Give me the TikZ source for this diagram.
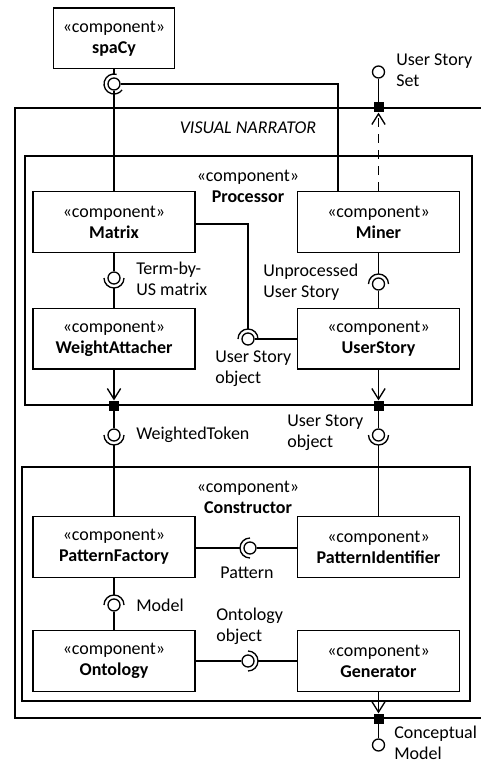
\documentclass[tikz,border=0pt]{standalone}
\usepackage{fontspec}
\setmainfont{Carlito}
\usetikzlibrary{arrows.meta,calc}

\begin{document}
\begin{tikzpicture}[x=0.75pt,y=-0.75pt,
  every node/.style={font=\fontsize{13.5}{15.75}\selectfont},
  comp/.style={draw,line width=1pt,minimum width=121.5pt,minimum height=45.5pt,align=center,inner sep=0pt},
  box/.style={draw,line width=1pt,inner sep=0pt},
  ball/.style={draw,line width=1pt,circle,minimum size=9pt,inner sep=0pt},
  port/.style={fill=black,minimum size=7.5pt,inner sep=0pt},
  lbl/.style={align=left,anchor=west,inner sep=0pt},
  wire/.style={line width=1pt},
  dep/.style={line width=1pt,-{Straight Barb[length=8pt,width=10pt,line width=1pt]}},
  ]
\useasboundingbox (0,0) rectangle (481,763);
\clip (0,0) rectangle (481,763);

% containers
\node[box,minimum width=363.75pt,minimum height=457.5pt] (outer) at (257.5,413) {};
\node[box,minimum width=335.25pt,minimum height=186.75pt] (proc) at (248.5,280.5) {};
\node[box,minimum width=336pt,minimum height=175.5pt] (cons) at (246,584) {};
\node (vnlbl) at (248,128) {\textit{VISUAL NARRATOR}};
\node[align=center] (proclbl) at (248,186) {«component»\\\textbf{Processor}};
\node[align=center] (conslbl) at (248,497) {«component»\\\textbf{Constructor}};

% components
\node[comp,minimum width=90.75pt] (spacy) at (114,38.5) {«component»\\\textbf{spaCy}};
\node[comp] (matrix) at (114,222) {«component»\\\textbf{Matrix}};
\node[comp] (miner) at (378.5,222) {«component»\\\textbf{Miner}};
\node[comp] (wa) at (114,338.5) {«component»\\\textbf{WeightAttacher}};
\node[comp] (us) at (378.5,338.5) {«component»\\\textbf{UserStory}};
\node[comp] (pf) at (114,547) {«component»\\\textbf{PatternFactory}};
\node[comp] (pi) at (378.5,547) {«component»\\\textbf{PatternIdentifier}};
\node[comp] (onto) at (114,661) {«component»\\\textbf{Ontology}};
\node[comp] (gen) at (378.5,661) {«component»\\\textbf{Generator}};

% ports
\node[port] (pset) at (miner.north |- outer.north) {};
\node[port] (pwa) at (wa.south |- proc.south) {};
\node[port] (pus) at (us.south |- proc.south) {};
\node[port] (pgen) at (gen.south |- outer.south) {};

% interface balls
\node[ball] (spb) at (114,84) {};
\node[ball] (setb) at (378.5,72) {};
\node[ball] (tbm) at (114,278) {};
\node[ball] (unp) at (378.5,284) {};
\node[ball] (uso) at (248,339) {};
\node[ball] (wt) at (114,435) {};
\node[ball] (uso2) at (378.5,435) {};
\node[ball] (pat) at (250,548) {};
\node[ball] (mdl) at (114,605) {};
\node[ball] (ono) at (248,661) {};
\node[ball] (cm) at (378.5,745) {};

% sockets
\draw[wire] (spb.center) ++(75:7.5pt) arc[start angle=75,end angle=324,radius=7.5pt];
\draw[wire] ([xshift=-7.5pt]tbm.center) arc[start angle=180,end angle=360,radius=7.5pt];
\draw[wire] ([xshift=7.5pt]unp.center) arc[start angle=0,end angle=180,radius=7.5pt];
\draw[wire] ([xshift=7.5pt]uso.center) arc[start angle=0,end angle=180,radius=7.5pt];
\draw[wire] ([xshift=-7.5pt]wt.center) arc[start angle=180,end angle=360,radius=7.5pt];
\draw[wire] ([xshift=-7.5pt]uso2.center) arc[start angle=180,end angle=360,radius=7.5pt];
\draw[wire] ([yshift=7.5pt]pat.center) arc[start angle=90,end angle=270,radius=7.5pt];
\draw[wire] ([xshift=7.5pt]mdl.center) arc[start angle=0,end angle=180,radius=7.5pt];
\draw[wire] ([yshift=-7.5pt]ono.center) arc[start angle=-90,end angle=90,radius=7.5pt];

% connectors
\draw[wire] (spacy.south) -- ([yshift=7.5pt]spb.center);
\draw[wire] (spb.south) -- (spb.south |- matrix.north);
\draw[wire] (spb.east) -| ([xshift=-30.4pt]miner.north);
\draw[wire] (setb.south) -- (pset.north);
\draw[line width=1pt,dash pattern=on 7pt off 5pt,-{Straight Barb[length=8pt,width=10pt,line width=1pt]}] (miner.north) -- (pset.south);
\draw[wire] (matrix.south) -- (tbm.north);
\draw[wire] ([yshift=-7.5pt]tbm.center) -- (wa.north);
\draw[wire] (miner.south) -- ([yshift=7.5pt]unp.center);
\draw[wire] (unp.south) -- (us.north);
\draw[wire] ([yshift=-1.5pt]matrix.east) -| ([yshift=7.5pt]uso.center);
\draw[wire] (uso.east) -- (uso.east -| us.west);
\draw[dep] (wa.south) -- (pwa.north);
\draw[dep] (us.south) -- (pus.north);
\draw[wire] (pwa.south) -- (wt.north);
\draw[wire] ([yshift=-7.5pt]wt.center) -- (pf.north);
\draw[wire] (pus.south) -- (uso2.north);
\draw[wire] ([yshift=-7.5pt]uso2.center) -- (pi.north);
\draw[wire] (pf.east |- pat) -- ([xshift=-7.5pt]pat.center);
\draw[wire] (pat.east) -- (pat.east -| pi.west);
\draw[wire] (pf.south) -- ([yshift=7.5pt]mdl.center);
\draw[wire] (mdl.south) -- (onto.north);
\draw[wire] (onto.east) -- (ono.west);
\draw[wire] ([xshift=7.5pt]ono.center) -- (gen.west);
\draw[dep] (gen.south) -- (pgen.north);
\draw[wire] (pgen.south) -- (cm.north);

% interface labels
\node[lbl] (lset) at (396,70) {User Story\\Set};
\node[lbl] (ltbm) at (136,279) {Term-by-\\US matrix};
\node[lbl] (lunp) at (263,282) {Unprocessed\\User Story};
\node[lbl] (luso) at (215,369) {User Story\\object};
\node[lbl] (lwt) at (136,435) {WeightedToken};
\node[lbl] (luso2) at (287,433) {User Story\\object};
\node (lpat) at (247,573) {Pattern};
\node[lbl] (lmdl) at (136,605) {Model};
\node[lbl] (lono) at (216,626) {Ontology\\object};
\node[lbl] (lcm) at (394,743) {Conceptual\\Model};
\end{tikzpicture}
\end{document}
